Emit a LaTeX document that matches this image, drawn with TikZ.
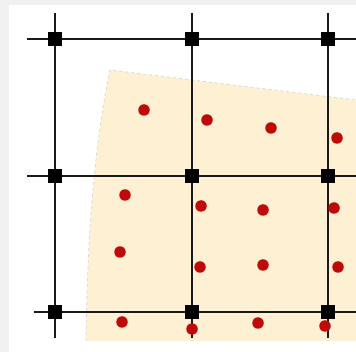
\documentclass[tikz,border=0pt]{standalone}
\usetikzlibrary{calc}
\definecolor{bgray}{HTML}{F0F0F0}
\definecolor{beige}{HTML}{FEF0D3}
\definecolor{dotred}{HTML}{BF0A0A}
\definecolor{gline}{HTML}{1A1A1A}
\begin{document}
\begin{tikzpicture}[x=1pt,y=-1pt,
  gridsq/.style={draw=none,fill=black,minimum size=14pt,inner sep=0pt,outer sep=0pt},
  reddot/.style={circle,fill=dotred,minimum size=11.5pt,inner sep=0pt},
  gridline/.style={draw=gline,line width=1.4pt}]
\useasboundingbox (0,0) rectangle (356,352);
\fill[bgray] (0,0) rectangle (356,352);
\fill[white] (9,5) rectangle (356,352);
% beige region
\fill[beige] (110,70) -- (356,100) -- (356,341) -- (86,341) .. controls (87,250) and (93,150) .. (110,70) -- cycle;
\draw[gray!30,dashed,line width=0.8pt] (86,341) .. controls (87,250) and (93,150) .. (110,70) -- (356,100);
% grid line end coordinates
\coordinate (v1t) at (55,13);  \coordinate (v1b) at (55,338);
\coordinate (v2t) at (192,13); \coordinate (v2b) at (192,338);
\coordinate (v3t) at (328,13); \coordinate (v3b) at (328,338);
\coordinate (h1l) at (27,39);  \coordinate (h1r) at (356,39);
\coordinate (h2l) at (27,176); \coordinate (h2r) at (356,176);
\coordinate (h3l) at (34,312); \coordinate (h3r) at (356,312);
\foreach \a/\b in {v1t/v1b,v2t/v2b,v3t/v3b,h1l/h1r,h2l/h2r,h3l/h3r}
  \draw[gridline] (\a) -- (\b);
% red dots
\foreach \n/\x/\y in {d1/144/110,d2/207/120,d3/271/128,d4/337/138,
  d5/125/195,d6/201/206,d7/263/210,d8/334/208,
  d9/120/252,d10/200/267,d11/263/265,d12/338/267,
  d13/122/322,d14/192/329,d15/258/323,d16/325/326}
  \node[reddot] (\n) at (\x,\y) {};
% grid squares
\foreach \n/\x/\y in {s11/55/39,s12/192/39,s13/328/39,
  s21/55/176,s22/192/176,s23/328/176,
  s31/55/312,s32/192/312,s33/328/312}
  \node[gridsq] (\n) at (\x,\y) {};
\end{tikzpicture}
\end{document}
